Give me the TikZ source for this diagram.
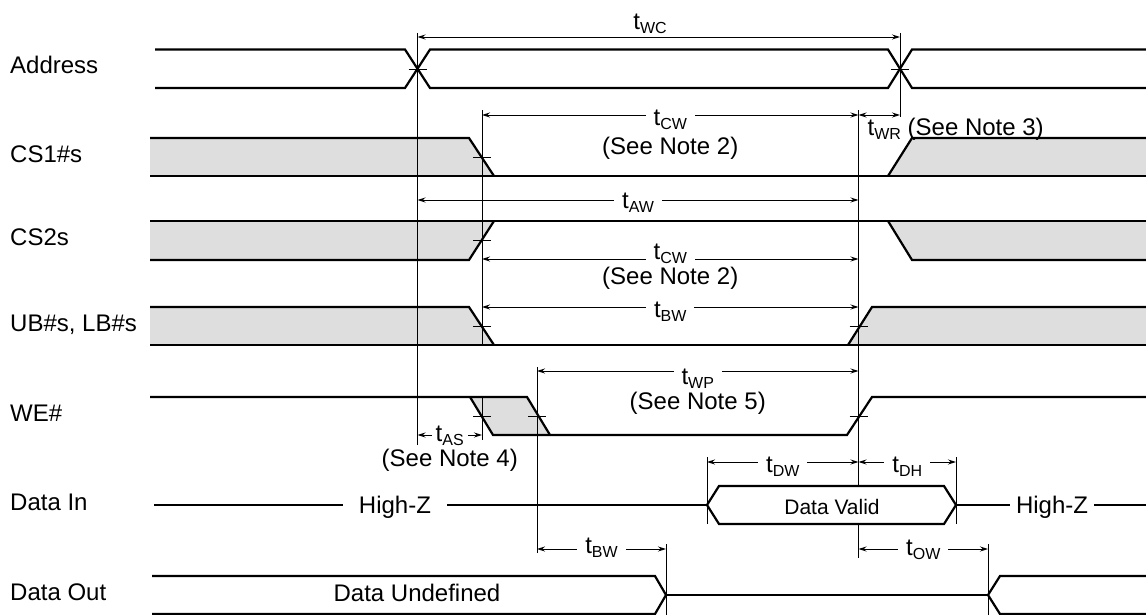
\documentclass[tikz,border=0pt]{standalone}
\usepackage{fontspec}
\setmainfont{Liberation Sans}
\usetikzlibrary{arrows.meta, positioning}
\tikzstyle{wave} = [line width=2.2pt]
\tikzstyle{shade} = [fill=black!13]
\tikzstyle{guide} = [line width=0.9pt]
\tikzstyle{dim} = [line width=0.9pt, <->, >={Stealth[length=8pt, width=5pt]}]
\tikzstyle{lbl} = [font=\fontsize{24}{28}\selectfont, inner sep=1pt, text height=17pt, text depth=5pt]
\tikzstyle{sig} = [lbl, anchor=west]
\tikzstyle{dimlbl} = [lbl, fill=white, inner xsep=8pt, inner ysep=0pt, text depth=4pt]
\newcommand{\tsub}[2]{#1\raisebox{-4pt}{\fontsize{16}{16}\selectfont #2}}

\begin{document}
\begin{tikzpicture}[x=1pt, y=-1pt]
    \useasboundingbox (0,0) rectangle (1146,615);
    % time marks
    \coordinate (tA) at (417.5,0);
    \coordinate (tC) at (482,0);
    \coordinate (tW) at (537,0);
    \coordinate (tU) at (666,0);
    \coordinate (tV) at (707,0);
    \coordinate (tE) at (858.5,0);
    \coordinate (tR) at (900,0);
    \coordinate (tH) at (956,0);
    \coordinate (tZ) at (988,0);
    % heights of the dimension lines
    \coordinate (yWC) at (0,37);
    \coordinate (yCW) at (0,115);
    \coordinate (yAW) at (0,200);
    \coordinate (yCS) at (0,259);
    \coordinate (yBW) at (0,307);
    \coordinate (yWP) at (0,371);
    \coordinate (yAS) at (0,435);
    \coordinate (yDW) at (0,462);
    \coordinate (yOW) at (0,549);

    % signal names
    \node [sig] (address) at (9,68) {Address};
    \node [sig] (csone) at (9,156) {CS1\#s};
    \node [sig] (cstwo) at (9,239.5) {CS2s};
    \node [sig] (bytes) at (9,325) {UB\#s, LB\#s};
    \node [sig] (we) at (9,415.5) {WE\#};
    \node [sig] (datain) at (9,504) {Data In};
    \node [sig] (dataout) at (9,594) {Data Out};

    % don't care areas
    \fill [shade] (150,138) -- (469,138) -- (494,176) -- (150,176) -- cycle;
    \fill [shade] (888,176) -- (912,138) -- (1146,138) -- (1146,176) -- cycle;
    \fill [shade] (150,221) -- (494,221) -- (469,260) -- (150,260) -- cycle;
    \fill [shade] (888,221) -- (1146,221) -- (1146,260) -- (912,260) -- cycle;
    \fill [shade] (150,307) -- (469,307) -- (494,345) -- (150,345) -- cycle;
    \fill [shade] (848,345) -- (872,307) -- (1146,307) -- (1146,345) -- cycle;
    \fill [shade] (470,397) -- (527,397) -- (550,435) -- (493,435) -- cycle;

    % guide lines
    \draw [guide] (tA |- 0,33) -- (tA |- 0,445);
    \draw [guide] (tR |- 0,33) -- (tR |- 0,117);
    \draw [guide] (tC |- 0,110) -- (tC |- 0,345);
    \draw [guide] (tC |- 0,397) -- (tC |- 0,440);
    \draw [guide] (tE |- 0,110) -- (tE |- 0,486);
    \draw [guide] (tE |- 0,524) -- (tE |- 0,558);
    \draw [guide] (tW |- 0,367) -- (tW |- 0,553);
    \draw [guide] (tV |- 0,457) -- (tV |- 0,524);
    \draw [guide] (tH |- 0,457) -- (tH |- 0,524);
    \draw [guide] (tU |- 0,544) -- (tU |- 0,615);
    \draw [guide] (tZ |- 0,544) -- (tZ |- 0,615);

    % waveforms
    \draw [wave] (155,49.5) -- (405,49.5) -- (430,88) -- (888,88) -- (912,49.5) -- (1146,49.5);
    \draw [wave] (155,88) -- (405,88) -- (430,49.5) -- (888,49.5) -- (912,88) -- (1146,88);

    \draw [wave] (150,138) -- (469,138) -- (494,176);
    \draw [wave] (150,176) -- (1146,176);
    \draw [wave] (888,176) -- (912,138) -- (1146,138);

    \draw [wave] (150,221) -- (1146,221);
    \draw [wave] (150,260) -- (469,260) -- (494,221);
    \draw [wave] (888,221) -- (912,260) -- (1146,260);

    \draw [wave] (150,307) -- (469,307) -- (494,345);
    \draw [wave] (150,345) -- (1146,345);
    \draw [wave] (848,345) -- (872,307) -- (1146,307);

    \draw [wave] (150,397) -- (527,397) -- (550,435);
    \draw [wave] (470,397) -- (493,435) -- (847,435) -- (872,397) -- (1146,397);

    \node [lbl, inner xsep=16pt] (hizone) at (395,507) {High-Z};
    \node [lbl, inner xsep=6pt] (hiztwo) at (1052,507) {High-Z};
    \node [lbl, font=\fontsize{21}{25}\selectfont] (valid) at (832,508) {Data Valid};
    \draw [wave] (154,505) -- (hizone.west |- 0,505);
    \draw [wave] (hizone.east |- 0,505) -- (707,505);
    \draw [wave] (707,505) -- (719,486) -- (944,486) -- (956,505) -- (944,524) -- (719,524) -- cycle;
    \draw [wave] (956,505) -- (hiztwo.west |- 0,505);
    \draw [wave] (hiztwo.east |- 0,505) -- (1146,505);

    \node [lbl] (undef) at (417,595) {Data Undefined};
    \draw [wave] (152,576) -- (655,576) -- (666,595) -- (655,614) -- (152,614);
    \draw [wave] (666,595) -- (988,595);
    \draw [wave] (1146,576) -- (1000,576) -- (988,595) -- (1000,614) -- (1146,614);

    % crossing marks
    \foreach \x/\y in {417.5/69, 900/69, 482/157, 482/240.5, 482/326, 858.5/326, 482/416, 537/416, 858.5/416}
        \draw [guide] (\x-9,\y) -- (\x+9,\y);

    % timing parameters
    \draw [dim] (tA |- yWC) -- (tR |- yWC);
    \node [lbl] (twc) at (650,24) {\tsub{t}{WC}};
    \draw [dim] (tC |- yCW) -- node [dimlbl, yshift=-4pt] (tcw) {\tsub{t}{CW}} (tE |- yCW);
    \node [lbl, below=6pt of tcw] (notetwo) {(See Note 2)};
    \draw [dim] (tE |- yCW) -- (tR |- yCW);
    \node [lbl, anchor=west] (twr) at (866.5,129.5) {\tsub{t}{WR} (See Note 3)};
    \draw [dim] (tA |- yAW) -- node [dimlbl, yshift=-2pt] (taw) {\tsub{t}{AW}} (tE |- yAW);
    \draw [dim] (tC |- yCS) -- node [dimlbl, yshift=6pt] (tcwb) {\tsub{t}{CW}} (tE |- yCS);
    \node [lbl, below=2pt of tcwb] (notetwob) {(See Note 2)};
    \draw [dim] (tC |- yBW) -- node [dimlbl, yshift=-4pt] (tbw) {\tsub{t}{BW}} (tE |- yBW);
    \draw [dim] (tW |- yWP) -- node [dimlbl, yshift=-7pt] (twp) {\tsub{t}{WP}} (tE |- yWP);
    \node [lbl, below=2pt of twp] (notefive) {(See Note 5)};
    \draw [dim] (tA |- yAS) -- node [dimlbl, inner xsep=4pt] (tas) {\tsub{t}{AS}} (tC |- yAS);
    \node [lbl, below=2pt of tas] (notefour) {(See Note 4)};
    \draw [dim] (tV |- yDW) -- node [dimlbl, yshift=-4pt] (tdw) {\tsub{t}{DW}} (tE |- yDW);
    \draw [dim] (tE |- yDW) -- node [dimlbl, yshift=-4pt] (tdh) {\tsub{t}{DH}} (tH |- yDW);
    \draw [dim] (tW |- yOW) -- node [dimlbl, yshift=2pt] (tbwb) {\tsub{t}{BW}} (tU |- yOW);
    \draw [dim] (tE |- yOW) -- node [dimlbl] (tow) {\tsub{t}{OW}} (tZ |- yOW);
\end{tikzpicture}
\end{document}
